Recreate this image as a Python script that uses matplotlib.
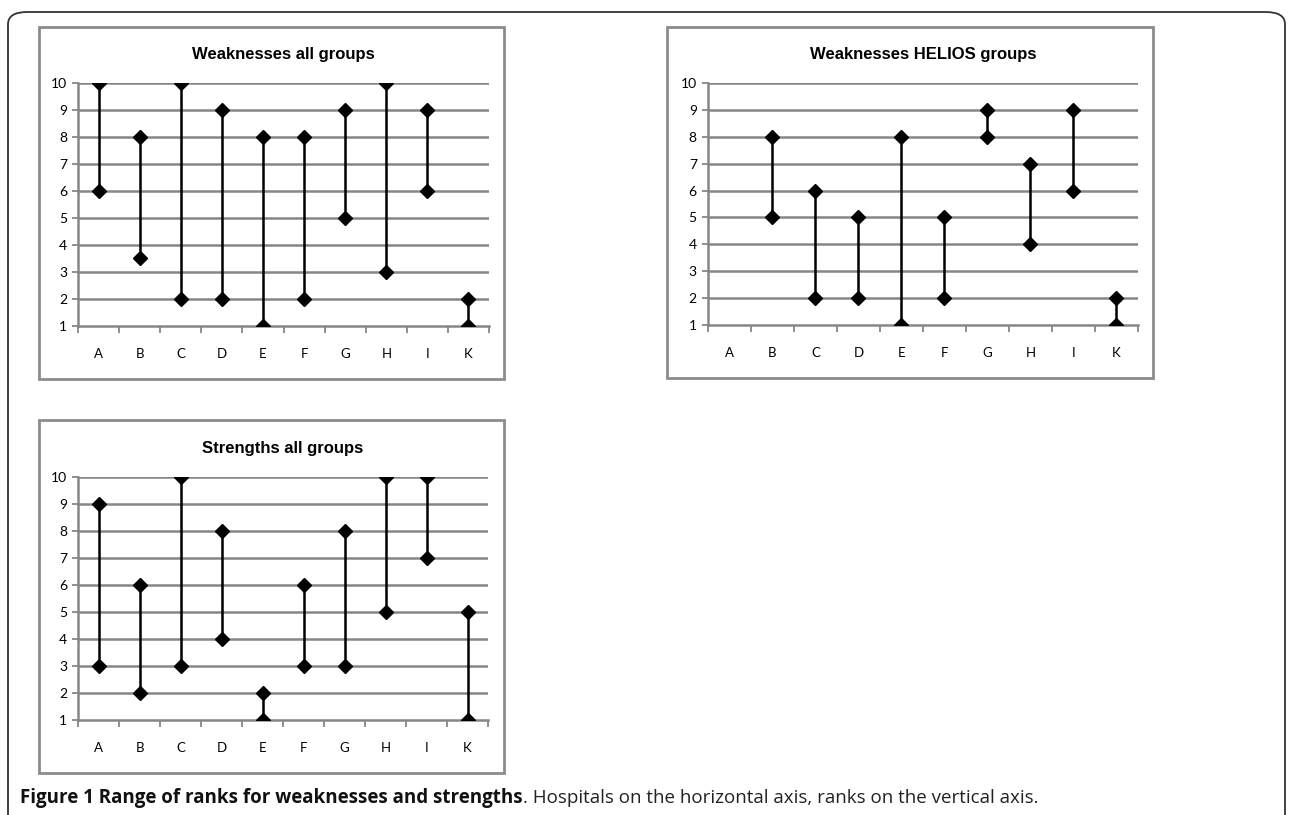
import matplotlib.pyplot as plt
from matplotlib.patches import Rectangle, FancyBboxPatch

HOSPITALS = ["A", "B", "C", "D", "E", "F", "G", "H", "I", "K"]

# rank ranges (low, high); None = no data
WEAK_ALL_LOW = [6, 3.5, 2, 2, 1, 2, 5, 3, 6, 1]
WEAK_ALL_HIGH = [10, 8, 10, 9, 8, 8, 9, 10, 9, 2]

WEAK_HELIOS_LOW = [None, 5, 2, 2, 1, 2, 8, 4, 6, 1]
WEAK_HELIOS_HIGH = [None, 8, 6, 5, 8, 5, 9, 7, 9, 2]

STRENGTH_ALL_LOW = [3, 2, 3, 4, 1, 3, 3, 5, 7, 1]
STRENGTH_ALL_HIGH = [9, 6, 10, 8, 2, 6, 8, 10, 10, 5]

GRID = "#868686"
TITLE_FONT = ["Liberation Sans", "DejaVu Sans"]
TICK_FONT = ["Lato", "DejaVu Sans"]
CAPTION_FONT = ["Open Sans", "DejaVu Sans"]


def draw_panel(fig, rect, box, title, lows, highs):
    fig.patches.append(Rectangle(box[:2], box[2], box[3], transform=fig.transFigure,
                                 facecolor="none", edgecolor="#8c8c8c", linewidth=2))
    ax = fig.add_axes(rect)
    xs = list(range(1, len(HOSPITALS) + 1))
    for x, lo, hi in zip(xs, lows, highs):
        if lo is None:
            continue
        ax.plot([x, x], [lo, hi], color="black", linewidth=1.8, marker="D",
                markersize=7, zorder=3)
    ax.set_xlim(0.5, len(HOSPITALS) + 0.5)
    ax.set_ylim(1, 10)
    ax.set_yticks(range(1, 11))
    for y in range(2, 11):
        ax.axhline(y, color=GRID, linewidth=1.8, zorder=1)
    ax.set_xticks(xs)
    ax.set_xticklabels(HOSPITALS, fontsize=9.5, family=TICK_FONT)
    ax.set_xticks([x + 0.5 for x in range(0, len(HOSPITALS) + 1)], minor=True)
    ax.tick_params(axis="x", which="major", length=0, pad=16)
    ax.tick_params(axis="x", which="minor", length=5, width=1.3, color=GRID, direction="out")
    ax.tick_params(axis="y", length=4, width=1.3, color=GRID, labelsize=10, pad=4)
    for lab in ax.get_yticklabels():
        lab.set_family(TICK_FONT)
    for side in ("top", "right"):
        ax.spines[side].set_visible(False)
    for side in ("left", "bottom"):
        ax.spines[side].set_color(GRID)
        ax.spines[side].set_linewidth(1.8)
    ax.set_title(title, fontsize=12, fontweight="bold", family=TITLE_FONT, pad=17)
    return ax


def main():
    fig = plt.figure(figsize=(12.9, 8.15), dpi=100)

    fig.patches.append(FancyBboxPatch((8 / 1290, -0.05), 1277 / 1290, 1.05 - 12 / 815,
                                      boxstyle="round,pad=0,rounding_size=0.015",
                                      transform=fig.transFigure, facecolor="none",
                                      edgecolor="#333333", linewidth=1.3))

    draw_panel(fig, [0.0605, 0.600, 0.3186, 0.2982], [0.0302, 0.535, 0.3605, 0.4319],
               "Weaknesses all groups", WEAK_ALL_LOW, WEAK_ALL_HIGH)
    draw_panel(fig, [0.5488, 0.6012, 0.3333, 0.2970], [0.5171, 0.5362, 0.3767, 0.4307],
               "Weaknesses HELIOS groups", WEAK_HELIOS_LOW, WEAK_HELIOS_HIGH)
    draw_panel(fig, [0.0605, 0.1166, 0.3178, 0.2982], [0.0302, 0.0515, 0.3605, 0.4331],
               "Strengths all groups", STRENGTH_ALL_LOW, STRENGTH_ALL_HIGH)

    cap_y = 1 - 803 / 815
    t1 = fig.text(20 / 1290, cap_y, "Figure 1 Range of ranks for weaknesses and strengths",
                  fontsize=13.5, fontweight="bold", family=CAPTION_FONT, va="baseline",
                  color="#111111")
    fig.canvas.draw()
    bb = t1.get_window_extent(renderer=fig.canvas.get_renderer())
    x1 = fig.transFigure.inverted().transform((bb.x1, bb.y0))[0]
    fig.text(x1, cap_y, ". Hospitals on the horizontal axis, ranks on the vertical axis.",
             fontsize=13.5, family=CAPTION_FONT, va="baseline", color="#222222")

    fig.savefig("out.png", dpi=100)


if __name__ == "__main__":
    main()
